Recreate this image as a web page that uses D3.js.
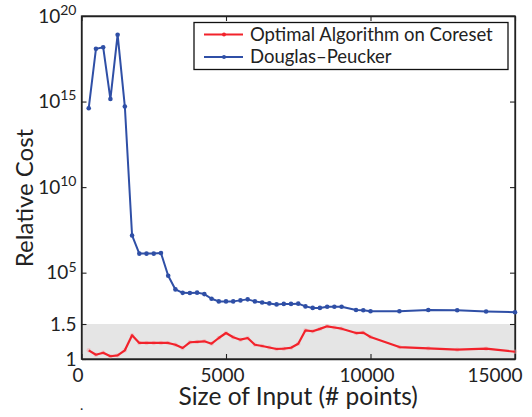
<!DOCTYPE html>
<html>
<head>
<meta charset="utf-8">
<script src="https://cdn.jsdelivr.net/npm/d3@7"></script>
<style>
body { margin: 0; background: #fff; }
svg text { font-family: Lato, "Open Sans", sans-serif; fill: #222; }
</style>
</head>
<body>
<svg width="532" height="417"></svg>
<script>
// input sizes (# points)
var sizes = [250, 500, 750, 1000, 1250, 1500, 1750, 2000, 2250, 2500, 2750, 3000,
    3250, 3500, 3750, 4000, 4250, 4500, 4750, 5000, 5250, 5500, 5750, 6000,
    6250, 6500, 6750, 7000, 7250, 7500, 7750, 8000, 8250, 8500, 8750, 9000,
    9500, 9750, 10000, 11000, 12000, 13000, 14000, 15000];

// relative cost, Douglas-Peucker (log part of the axis)
var dpCost = [4.1e14, 1.2e18, 1.5e18, 1.4e15, 8.1e18, 5.1e14, 1.5e7, 1.3e6, 1.3e6, 1.3e6, 1.4e6, 6.6e4,
    1.05e4, 6.6e3, 6.5e3, 6.8e3, 5.6e3, 3.0e3, 2.1e3, 2.1e3, 2.1e3, 2.4e3, 2.75e3, 2.1e3,
    1.8e3, 1.6e3, 1.4e3, 1.5e3, 1.5e3, 1.55e3, 1.07e3, 870, 870, 1020, 1020, 1020,
    660, 630, 560, 560, 660, 630, 540, 490];

// relative cost, optimal algorithm on coreset (linear part of the axis)
var coresetCost = [1.124, 1.061, 1.09, 1.039, 1.053, 1.124, 1.339, 1.229, 1.229, 1.229, 1.229, 1.229,
    1.204, 1.157, 1.239, 1.245, 1.253, 1.219, 1.30, 1.371, 1.31, 1.276, 1.30, 1.204,
    1.186, 1.164, 1.143, 1.147, 1.161, 1.219, 1.41, 1.396, 1.43, 1.467, 1.45, 1.433,
    1.371, 1.376, 1.314, 1.171, 1.153, 1.133, 1.147, 1.104];

var xTicks = [0, 5000, 10000, 15000];
var logTicks = [1e5, 1e10, 1e15, 1e20];
var linTicks = [1, 1.5];
var seriesNames = ["Optimal Algorithm on Coreset", "Douglas\u2013Peucker"];

var red = "#f2222b", blue = "#2f4fa6";

var svg = d3.select("svg");
var pLeft = 81.5, pRight = 515, pTop = 16, pBottom = 359, yBreak = 324;

var x = d3.scaleLinear().domain([0, 15000]).range([pLeft, pRight]);
var yLog = d3.scaleLog().domain([1e2, 1e20]).range([yBreak, pTop]);
var yLin = d3.scaleLinear().domain([1, 1.5]).range([pBottom, yBreak]);
function y(v) { return v <= 1.5 ? yLin(v) : yLog(v); }

// grey band for the linear part
svg.append("rect")
    .attr("x", pLeft).attr("y", yBreak)
    .attr("width", pRight - pLeft).attr("height", pBottom - yBreak)
    .style("fill", "#e5e5e5");

// axes, matlab style: ticks pointing inward, box all round
function styleAxis(g) {
    g.selectAll("path.domain").style("stroke", "#222").style("stroke-width", 1.3);
    g.selectAll(".tick line").style("stroke", "#222").style("stroke-width", 1.1);
}

var xAxis = svg.append("g")
    .attr("transform", "translate(0," + pBottom + ")")
    .call(d3.axisBottom(x).tickValues(xTicks).tickSizeInner(-5).tickSizeOuter(0)
        .tickPadding(10).tickFormat(d3.format("d")));
xAxis.selectAll("text")
    .style("font-size", "19px")
    .attr("dx", function(d) { return d == 15000 ? 0 : -4; })
    .attr("text-anchor", function(d) { return d == 15000 ? "end" : "middle"; })
    .attr("x", function(d) { return d == 15000 ? 7 : 0; });
styleAxis(xAxis);

var topAxis = svg.append("g")
    .attr("transform", "translate(0," + pTop + ")")
    .call(d3.axisTop(x).tickValues(xTicks).tickSizeInner(-5).tickSizeOuter(0).tickFormat(""));
styleAxis(topAxis);

var yLogAxis = svg.append("g")
    .attr("transform", "translate(" + pLeft + ",0)")
    .call(d3.axisLeft(yLog).tickValues(logTicks).tickSizeInner(-5).tickSizeOuter(0).tickPadding(5).tickFormat(""));
yLogAxis.selectAll(".tick text").each(function(d) {
    var t = d3.select(this).style("font-size", "19px").attr("dy", "0.32em");
    t.append("tspan").text("10");
    t.append("tspan").text(Math.round(Math.log10(d)))
        .attr("dy", "-0.55em").style("font-size", "14px");
});
styleAxis(yLogAxis);

var yLinAxis = svg.append("g")
    .attr("transform", "translate(" + pLeft + ",0)")
    .call(d3.axisLeft(yLin).tickValues(linTicks).tickSizeInner(-5).tickSizeOuter(0).tickPadding(5).tickFormat(d3.format("")));
yLinAxis.selectAll("text").style("font-size", "19px");
styleAxis(yLinAxis);

var rightLog = svg.append("g")
    .attr("transform", "translate(" + pRight + ",0)")
    .call(d3.axisRight(yLog).tickValues(logTicks).tickSizeInner(-5).tickSizeOuter(0).tickFormat(""));
styleAxis(rightLog);
var rightLin = svg.append("g")
    .attr("transform", "translate(" + pRight + ",0)")
    .call(d3.axisRight(yLin).tickValues(linTicks).tickSizeInner(-5).tickSizeOuter(0).tickFormat(""));
styleAxis(rightLin);

// the box
svg.append("rect")
    .attr("x", pLeft).attr("y", pTop)
    .attr("width", pRight - pLeft).attr("height", pBottom - pTop)
    .style("fill", "none").style("stroke", "#222").style("stroke-width", 1.3);

var line = d3.line()
    .x(function(d) { return x(d[0]); })
    .y(function(d) { return y(d[1]); });

var dpData = d3.zip(sizes, dpCost);
var coreData = d3.zip(sizes, coresetCost);

// coreset series: faint markers, plain line
svg.selectAll(".coreDot").data(coreData).enter().append("circle")
    .attr("class", "coreDot")
    .attr("cx", function(d) { return x(d[0]); })
    .attr("cy", function(d) { return y(d[1]); })
    .attr("r", 2.2)
    .style("fill", "#f4a6aa").style("opacity", 0.5);
svg.append("path").datum(coreData)
    .attr("d", line)
    .style("fill", "none").style("stroke", red).style("stroke-width", 2.2)
    .style("stroke-linejoin", "round");

// douglas-peucker series
svg.append("path").datum(dpData)
    .attr("d", line)
    .style("fill", "none").style("stroke", blue).style("stroke-width", 2)
    .style("stroke-linejoin", "round");
svg.selectAll(".dpDot").data(dpData).enter().append("circle")
    .attr("class", "dpDot")
    .attr("cx", function(d) { return x(d[0]); })
    .attr("cy", function(d) { return y(d[1]); })
    .attr("r", 2.3)
    .style("fill", blue);

// legend
var lg = svg.append("g").attr("transform", "translate(194,22.5)");
lg.append("rect")
    .attr("width", 314).attr("height", 47)
    .style("fill", "#fff").style("stroke", "#111").style("stroke-width", 1.3);
[red, blue].forEach(function(c, i) {
    var yy = 12 + i * 22.5;
    lg.append("line").attr("x1", 10).attr("x2", 49).attr("y1", yy).attr("y2", yy)
        .style("stroke", c).style("stroke-width", 2);
    lg.append("circle").attr("cx", 30).attr("cy", yy).attr("r", 2).style("fill", c);
    lg.append("text").attr("x", 56).attr("y", yy).attr("dy", "0.35em")
        .style("font-size", "18.5px").text(seriesNames[i]);
});

// axis titles
svg.append("text")
    .attr("x", (pLeft + pRight) / 2).attr("y", 405)
    .attr("text-anchor", "middle")
    .style("font-size", "24.5px")
    .text("Size of Input (# points)");
svg.append("text")
    .attr("transform", "translate(33,198) rotate(-90)")
    .attr("text-anchor", "middle")
    .style("font-size", "24px")
    .text("Relative Cost");

// stray dot bottom left
svg.append("text").attr("x", 80).attr("y", 410).style("font-size", "14px").text(".");
</script>
</body>
</html>
